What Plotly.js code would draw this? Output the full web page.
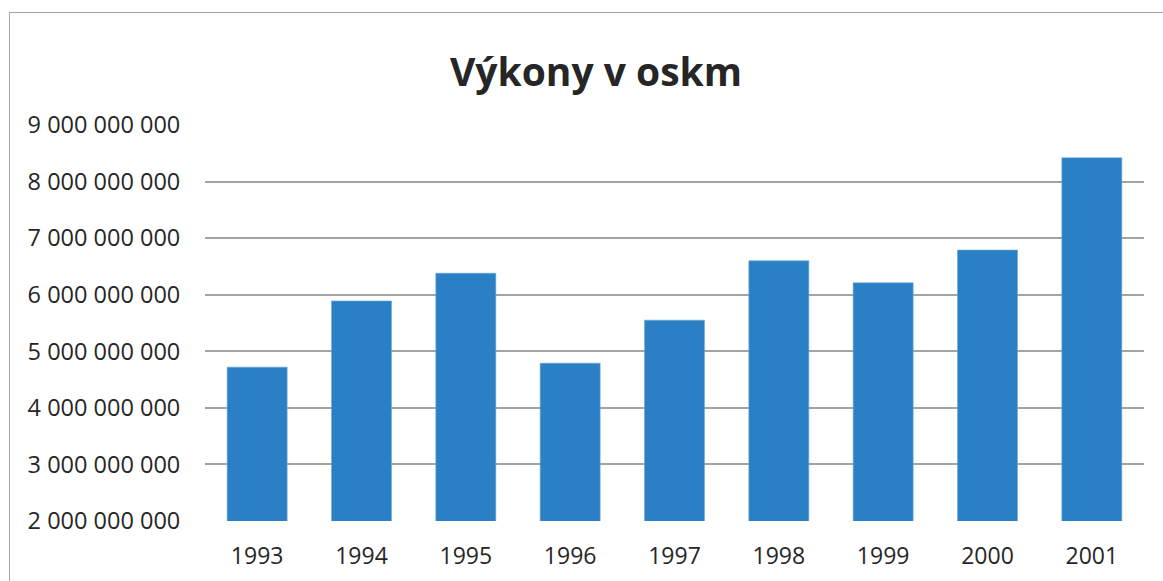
<!DOCTYPE html>
<html>
<head>
<meta charset="utf-8">
<script src="https://cdn.plot.ly/plotly-3.0.1.min.js"></script>
<style>
  html, body { margin: 0; padding: 0; background: #ffffff; }
  #wrap { position: relative; width: 1163px; height: 581px; overflow: hidden; }
  #frame { position: absolute; left: 9px; top: 12px; width: 1200px; height: 600px;
           border-left: 1.5px solid #a6a6a6; border-top: 1.5px solid #a6a6a6; pointer-events: none; z-index: 2; }
  #chart { position: absolute; left: 0; top: 0; width: 1163px; height: 581px; }
</style>
</head>
<body>
<div id="wrap">
  <div id="chart"></div>
  <div id="frame"></div>
</div>
<script>
const years = ["1993", "1994", "1995", "1996", "1997", "1998", "1999", "2000", "2001"];
const vykony = [4.72e9, 5.89e9, 6.38e9, 4.79e9, 5.55e9, 6.60e9, 6.21e9, 6.79e9, 8.42e9];
const yTickVals = [2e9, 3e9, 4e9, 5e9, 6e9, 7e9, 8e9, 9e9];
const yTickText = ["2 000 000 000", "3 000 000 000", "4 000 000 000", "5 000 000 000",
                   "6 000 000 000", "7 000 000 000", "8 000 000 000", "9 000 000 000"];
const chartTitle = "Výkony v oskm";

const trace = {
  type: "bar",
  x: years,
  y: vykony,
  marker: { color: "#2a7fc5", line: { color: "#6fa8dc", width: 0.6 } },
  hoverinfo: "x+y"
};

const layout = {
  width: 1163,
  height: 581,
  margin: { l: 205, r: 19, t: 125, b: 60, pad: 0 },
  paper_bgcolor: "#ffffff",
  plot_bgcolor: "#ffffff",
  showlegend: false,
  bargap: 0.425,
  font: { family: "Open Sans, sans-serif", color: "#404040" },
  title: {
    text: "<b>" + chartTitle + "</b>",
    font: { family: "Open Sans, sans-serif", size: 39, color: "#262626" },
    x: 596 / 1163, xref: "container", xanchor: "center",
    y: 1 - 72 / 581, yref: "container", yanchor: "middle"
  },
  xaxis: {
    type: "category",
    showgrid: false,
    zeroline: false,
    showline: false,
    ticks: "outside",
    ticklen: 14,
    tickcolor: "rgba(0,0,0,0)",
    tickfont: { family: "Open Sans, sans-serif", size: 23, color: "#262626" }
  },
  yaxis: {
    range: [2e9, 9e9],
    tickvals: yTickVals,
    ticktext: yTickText,
    showgrid: true,
    gridcolor: "#a3a3a3",
    gridwidth: 2,
    zeroline: false,
    showline: false,
    ticks: "outside",
    ticklen: 19,
    tickcolor: "rgba(0,0,0,0)",
    tickfont: { family: "Open Sans, sans-serif", size: 23.5, color: "#262626" }
  }
};

Plotly.newPlot("chart", [trace], layout, { displayModeBar: false, staticPlot: true });
</script>
</body>
</html>
